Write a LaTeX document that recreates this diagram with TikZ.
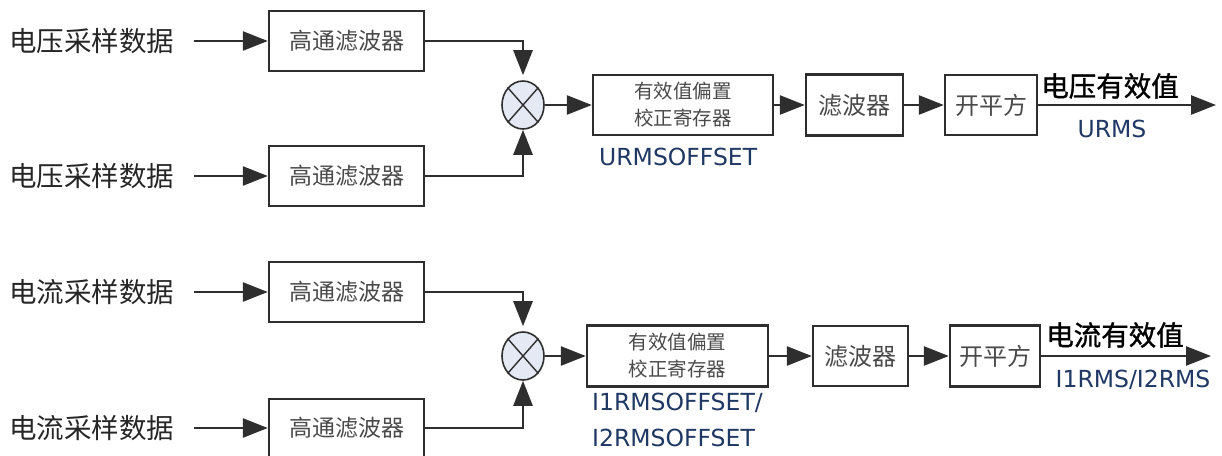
\documentclass[tikz,border=0pt]{standalone}
\usepackage{fontspec}
\setmainfont{DejaVu Sans}
\newfontfamily\cjk{Noto Sans CJK SC}
\newfontfamily\cjkb[FakeBold=1.2]{Noto Sans CJK SC}
\usetikzlibrary{arrows.meta,shapes.geometric}
\definecolor{lblblue}{HTML}{1F3864}
\definecolor{boxtxt}{HTML}{4A4A4A}
\definecolor{edgec}{HTML}{2E2E2E}
\definecolor{mulfill}{HTML}{E4E9F4}
\begin{document}
\begin{tikzpicture}[x=1pt,y=-1pt,
  blk/.style={draw=edgec, line width=2.4pt, fill=white, inner sep=0pt,
    font=\cjk\fontsize{23}{26}\selectfont, text=boxtxt, align=center},
  reg/.style={blk, font=\cjk\fontsize{19.5}{27}\selectfont},
  lab/.style={font=\cjk\fontsize{27.5}{30}\selectfont, text=black!85, anchor=west, inner sep=0pt},
  outlab/.style={font=\cjkb\fontsize{27.5}{30}\selectfont, text=black, inner sep=0pt},
  nm/.style={font=\fontsize{23.5}{26}\selectfont, text=lblblue, inner sep=0pt},
  conn/.style={line width=2.6pt, draw=edgec, -{Triangle[length=25pt,width=19pt]}},
  mul/.style={ellipse, draw=edgec, line width=1.6pt, fill=mulfill,
    minimum width=42pt, minimum height=48pt, inner sep=0pt},
  crossl/.style={draw=edgec, line width=1.4pt}
]
\path[use as bounding box, fill=white] (0,0) rectangle (1222,455);

% ---------- voltage channel ----------
\node[lab] (lab1) at (9,41) {电压采样数据};
\node[lab] (lab2) at (9,176) {电压采样数据};
\node[blk, minimum width=155pt, minimum height=60pt] (hpf1) at (346.5,41) {高通滤波器};
\node[blk, minimum width=155pt, minimum height=60pt] (hpf2) at (346.5,176) {高通滤波器};
\node[mul] (mulA) at (523,105) {};
\draw[crossl] (mulA.north east) -- (mulA.south west) (mulA.north west) -- (mulA.south east);
\node[reg, minimum width=180pt, minimum height=60pt] (regA) at (683,105) {有效值偏置\\校正寄存器};
\node[nm, anchor=west] (nmA) at (599,157) {URMSOFFSET};
\node[blk, font=\cjk\fontsize{24}{26}\selectfont, minimum width=97pt, minimum height=61pt] (fltA) at (854.5,105) {滤波器};
\node[blk, font=\cjk\fontsize{24}{26}\selectfont, minimum width=92pt, minimum height=60pt] (sqA) at (991,105) {开平方};
\coordinate (outA) at (1216,105);
\node[outlab] (oA) at (1110,86) {电压有效值};
\node[nm] (uA) at (1112,129) {URMS};

\draw[conn, shorten <=20pt] (lab1) -- (hpf1);
\draw[conn, shorten <=20pt] (lab2) -- (hpf2);
\draw[conn, shorten >=5pt] (hpf1.east) -| (mulA.north);
\draw[conn] (hpf2.east) -| (mulA.south);
\draw[conn] (mulA) -- (regA);
\draw[conn] (regA) -- (fltA);
\draw[conn] (fltA) -- (sqA);
\draw[conn] (sqA) -- (outA);

% ---------- current channel ----------
\node[lab] (lab3) at (9,292) {电流采样数据};
\node[lab] (lab4) at (9,428) {电流采样数据};
\node[blk, minimum width=155pt, minimum height=60pt] (hpf3) at (346.5,292) {高通滤波器};
\node[blk, minimum width=155pt, minimum height=58pt] (hpf4) at (346.5,428) {高通滤波器};
\node[mul] (mulB) at (523,356) {};
\draw[crossl] (mulB.north east) -- (mulB.south west) (mulB.north west) -- (mulB.south east);
\node[reg, minimum width=181pt, minimum height=61pt] (regB) at (677.5,356) {有效值偏置\\校正寄存器};
\node[nm, anchor=west] (nmB1) at (592,403) {I1RMSOFFSET/};
\node[nm, anchor=west] (nmB2) at (592,438) {I2RMSOFFSET};
\node[blk, font=\cjk\fontsize{24}{26}\selectfont, minimum width=95pt, minimum height=60pt] (fltB) at (860.5,356) {滤波器};
\node[blk, font=\cjk\fontsize{24}{26}\selectfont, minimum width=90pt, minimum height=61pt] (sqB) at (995,356) {开平方};
\coordinate (outB) at (1211,356);
\node[outlab] (oB) at (1115,335) {电流有效值};
\node[nm] (uB) at (1133,380) {I1RMS/I2RMS};

\draw[conn, shorten <=20pt] (lab3) -- (hpf3);
\draw[conn, shorten <=20pt] (lab4) -- (hpf4);
\draw[conn, shorten >=5pt] (hpf3.east) -| (mulB.north);
\draw[conn] (hpf4.east) -| (mulB.south);
\draw[conn] (mulB) -- (regB);
\draw[conn] (regB) -- (fltB);
\draw[conn] (fltB) -- (sqB);
\draw[conn] (sqB) -- (outB);
\end{tikzpicture}
\end{document}
